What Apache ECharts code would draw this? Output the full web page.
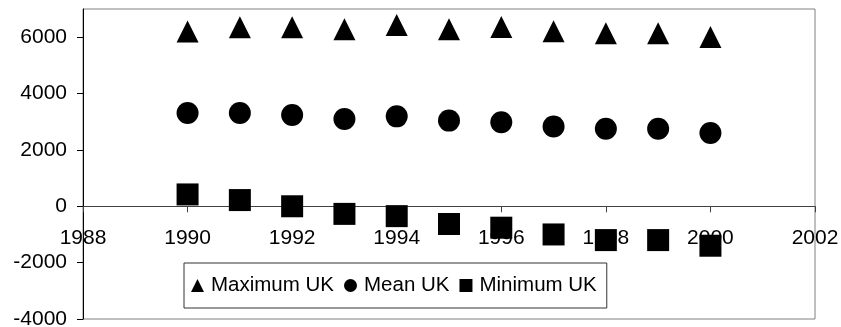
<!DOCTYPE html>
<html>
<head>
<meta charset="utf-8">
<script src="https://cdn.jsdelivr.net/npm/echarts@6/dist/echarts.min.js"></script>
<style>
  html, body { margin: 0; padding: 0; background: #fff; }
  #chart { width: 841px; height: 327px; }
</style>
</head>
<body>
<div id="chart"></div>
<script>
// Annual UK values, 1990-2000
const years = [1990, 1991, 1992, 1993, 1994, 1995, 1996, 1997, 1998, 1999, 2000];
const maxUK = [6200, 6350, 6350, 6280, 6430, 6280, 6360, 6210, 6140, 6140, 6010];
const meanUK = [3310, 3310, 3240, 3100, 3190, 3040, 2980, 2830, 2750, 2750, 2600];
const minUK = [420, 220, 0, -270, -350, -630, -760, -1000, -1200, -1200, -1400];

const seriesNames = ['Maximum UK', 'Mean UK', 'Minimum UK'];

const pairs = (vals) => years.map((y, i) => [y, vals[i]]);
const FONT = 'Liberation Sans, Arial, sans-serif';
const plain = (v) => String(v);

const X_MIN = 1988, X_MAX = 2002, X_STEP = 2;
const Y_MIN = -4000, Y_MAX = 7000, Y_STEP = 2000;
const PLOT = { left: 83, right: 26, top: 9, bottom: 8 };

const chart = echarts.init(document.getElementById('chart'), null, { renderer: 'canvas' });

chart.setOption({
  animation: false,
  backgroundColor: '#ffffff',
  textStyle: { fontFamily: FONT },
  grid: [
    {
      left: PLOT.left, right: PLOT.right, top: PLOT.top, bottom: PLOT.bottom,
      outerBoundsMode: 'none',
      containLabel: false,
      show: true,
      borderColor: '#808080',
      borderWidth: 1,
      backgroundColor: 'transparent'
    },
    // label strip for the year axis, whose bottom edge sits on y = 0
    {
      left: PLOT.left, right: PLOT.right, top: PLOT.top, bottom: PLOT.bottom,
      outerBoundsMode: 'none',
      containLabel: false,
      show: false
    }
  ],
  xAxis: [
    {
      type: 'value', gridIndex: 0,
      min: X_MIN, max: X_MAX, interval: X_STEP,
      axisLine: { show: true, onZero: true, onZeroAxisIndex: 0, lineStyle: { color: '#404040', width: 1 } },
      axisTick: { show: true, inside: false, length: 6, lineStyle: { color: '#404040' } },
      axisLabel: { show: false },
      splitLine: { show: false }
    },
    {
      type: 'value', gridIndex: 1, z: 0,
      min: X_MIN, max: X_MAX, interval: X_STEP,
      axisLine: { show: false, onZero: false },
      axisTick: { show: false },
      axisLabel: { color: '#000', fontSize: 21, fontFamily: FONT, margin: 21, formatter: plain },
      splitLine: { show: false }
    }
  ],
  yAxis: [
    {
      type: 'value', gridIndex: 0,
      min: Y_MIN, max: Y_MAX, interval: Y_STEP,
      axisLine: { show: true, onZero: false, lineStyle: { color: '#000', width: 1 } },
      axisTick: { show: true, length: 6, lineStyle: { color: '#000' } },
      axisLabel: { color: '#000', fontSize: 21, fontFamily: FONT, margin: 16,
        showMaxLabel: false, formatter: plain },
      splitLine: { show: false }
    },
    {
      type: 'value', gridIndex: 1, show: false, min: 0, max: 1
    }
  ],
  legend: {
    data: seriesNames,
    left: 184, top: 263,
    orient: 'horizontal',
    backgroundColor: '#fff',
    borderColor: '#333',
    borderWidth: 1,
    padding: [12, 10, 12, 7],
    itemWidth: 13, itemHeight: 13,
    itemGap: 10,
    itemStyle: { opacity: 1 },
    textStyle: { color: '#000', fontSize: 20.5, fontFamily: FONT, lineHeight: 20, padding: [0, 0, 0, 2] }
  },
  series: [
    { name: seriesNames[0], type: 'scatter', symbol: 'triangle', symbolSize: 22, z: 5,
      itemStyle: { color: '#000', opacity: 1 }, data: pairs(maxUK) },
    { name: seriesNames[1], type: 'scatter', symbol: 'circle', symbolSize: 22, z: 5,
      itemStyle: { color: '#000', opacity: 1 }, data: pairs(meanUK) },
    { name: seriesNames[2], type: 'scatter', symbol: 'rect', symbolSize: 22, z: 5,
      itemStyle: { color: '#000', opacity: 1 }, data: pairs(minUK) }
  ]
});

// Put the year labels just under the zero line of the value axis
const zeroY = chart.convertToPixel({ xAxisIndex: 0, yAxisIndex: 0 }, [X_MIN, 0])[1];
const H = chart.getHeight();
chart.setOption({
  grid: [{}, { top: PLOT.top, bottom: H - zeroY }]
});
</script>
</body>
</html>
